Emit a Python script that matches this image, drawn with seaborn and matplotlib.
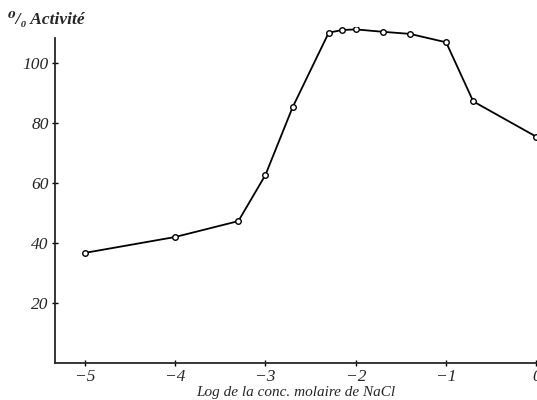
import numpy as np
import pandas as pd
import matplotlib
matplotlib.use('Agg')
import matplotlib.pyplot as plt
import seaborn as sns

# DATA
log_nacl = [-5.0, -4.0, -3.3, -3.0, -2.7, -2.3, -2.15, -2.0, -1.7, -1.4, -1.0, -0.7, 0.0]
activite = [36.7, 42.0, 47.3, 62.7, 85.2, 110.1, 111.0, 111.2, 110.4, 109.7, 106.9, 87.2, 75.4]
xticks = [-5, -4, -3, -2, -1, 0]
yticks = [20, 40, 60, 80, 100]

df = pd.DataFrame({'x': log_nacl, 'y': activite})

sns.set_style('ticks')
plt.rcParams['font.family'] = ['Liberation Serif', 'DejaVu Serif']
plt.rcParams['font.style'] = 'italic'

fig = plt.figure(figsize=(5.37, 4.0), dpi=100)
ax = fig.add_axes([0.1024, 0.0925, 0.8966, 0.84])

sns.lineplot(data=df, x='x', y='y', color='black', linewidth=1.3,
             marker='o', markersize=4, markerfacecolor='white',
             markeredgecolor='black', markeredgewidth=1.0, ax=ax)

ax.set_xlim(-5.33, 0)
ax.set_ylim(0, 112)
ax.set_xticks(xticks)
ax.set_xticklabels(['\u2212' + str(abs(t)) if t < 0 else str(t) for t in xticks])
ax.set_yticks(yticks)
ax.tick_params(direction='inout', length=5, width=1, labelsize=12.5, pad=2, color='black')
for lab in ax.get_xticklabels() + ax.get_yticklabels():
    lab.set_fontstyle('italic')

sns.despine(ax=ax)
ax.spines['left'].set_bounds(0, 108.5)
ax.spines['left'].set_linewidth(1.3)
ax.spines['bottom'].set_linewidth(1.3)

ax.set_xlabel('Log de la conc. molaire de NaCl', fontsize=11, style='italic', labelpad=0.5)
ax.set_ylabel('')
fig.text(0.015, 0.94, '\u2070/\u2080 Activité', fontsize=12.5, style='italic', fontweight='bold')

fig.savefig('out.png', dpi=100)
